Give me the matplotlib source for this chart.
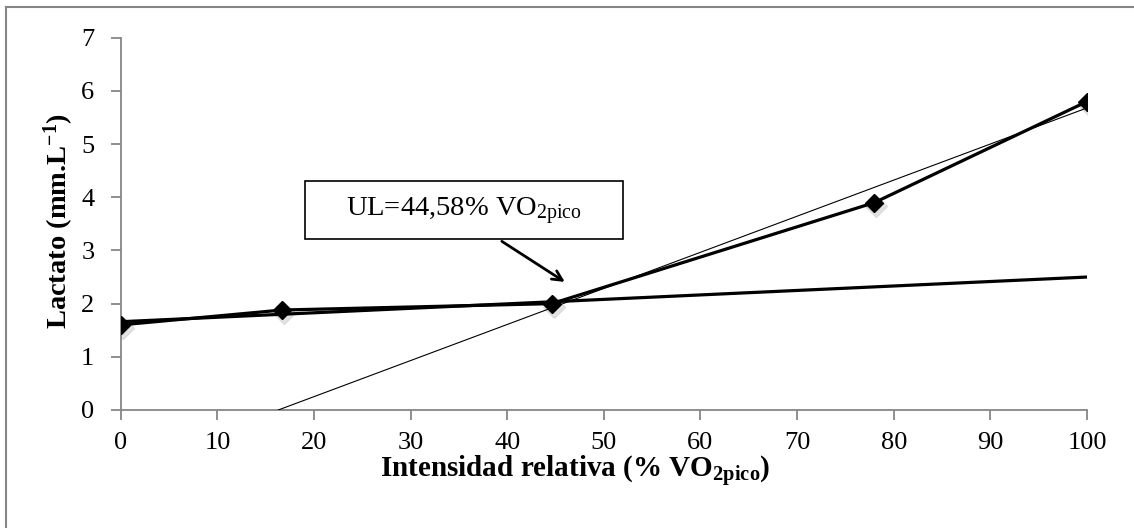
import matplotlib
matplotlib.use("Agg")
import matplotlib.pyplot as plt
import matplotlib.transforms as mtransforms
from matplotlib.patches import Rectangle
from matplotlib.lines import Line2D

plt.rcParams['font.family'] = ['Liberation Serif', 'DejaVu Serif']
plt.rcParams['mathtext.fontset'] = 'custom'
plt.rcParams['mathtext.rm'] = 'Liberation Serif'
plt.rcParams['mathtext.it'] = 'Liberation Serif:italic'
plt.rcParams['mathtext.bf'] = 'Liberation Serif:bold'

# measured points
intensidad = [0, 16.7, 44.6, 78.0, 100]
lactato = [1.6, 1.88, 2.0, 3.9, 5.8]

# trend lines (end points)
trend_low_x = [0, 100]
trend_low_y = [1.66, 2.5]
trend_high_x = [16.3, 100]
trend_high_y = [0, 5.68]

label_ul = "UL=44,58% VO$_{\\mathrm{2pico}}$"

grey = '#868686'

fig = plt.figure(figsize=(11.34, 5.28), dpi=100)
ax = fig.add_axes([0.1065, 0.2235, 0.852, 0.705])

# shadow for markers
shadow = mtransforms.offset_copy(ax.transData, fig=fig, x=2, y=-3, units='dots')
ax.plot(intensidad, lactato, linestyle='none', marker='D', ms=11,
        color='#d0d0d0', alpha=0.6, transform=shadow, zorder=2)

ax.plot(trend_low_x, trend_low_y, color='black', lw=2.3, zorder=3)
ax.plot(trend_high_x, trend_high_y, color='black', lw=0.8, zorder=3)
ax.plot(intensidad, lactato, color='black', lw=2.3, marker='D', ms=9,
        zorder=4)

ax.set_xlim(0, 100)
ax.set_ylim(0, 7)
ax.set_xticks(range(0, 101, 10))
ax.set_yticks(range(0, 8))
ax.spines['top'].set_visible(False)
ax.spines['right'].set_visible(False)
for s in ['left', 'bottom']:
    ax.spines[s].set_color(grey)
    ax.spines[s].set_linewidth(1.3)
ax.tick_params(axis='both', direction='out', length=7, width=1.3,
               color=grey, labelsize=19)
ax.tick_params(axis='x', pad=9)
ax.tick_params(axis='y', pad=12)

# annotation box and arrow
ax.add_patch(Rectangle((19.1, 3.22), 32.9, 1.08, facecolor='white',
                       edgecolor='black', lw=1.2, zorder=5, clip_on=False))
ax.text(35.55, 3.74, label_ul, ha='center', va='center', fontsize=20.5,
        zorder=6)
ax.annotate('', xy=(46.2, 2.38), xytext=(39.2, 3.2),
            arrowprops=dict(arrowstyle='->,head_length=0.7,head_width=0.35',
                            color='black', lw=2), zorder=6)

fig.text(0.052, 0.5805, "Lactato (mm.L$^{\\mathbf{-1}}$)", rotation=90,
         ha='center', va='center', fontsize=20.5, fontweight='bold')
fig.text(0.507, 1 - 478 / 528, "Intensidad relativa (% VO$_{\\mathbf{2pico}}$)",
         ha='center', va='baseline', fontsize=21, fontweight='bold')

# outer frame (left and top edges visible)
fig.add_artist(Line2D([5.5 / 1134, 5.5 / 1134], [0, 1 - 6.5 / 528],
                      transform=fig.transFigure, color=grey, lw=1.5))
fig.add_artist(Line2D([5.5 / 1134, 1], [1 - 6.5 / 528, 1 - 6.5 / 528],
                      transform=fig.transFigure, color=grey, lw=1.5))

fig.savefig('out.png', dpi=100)
